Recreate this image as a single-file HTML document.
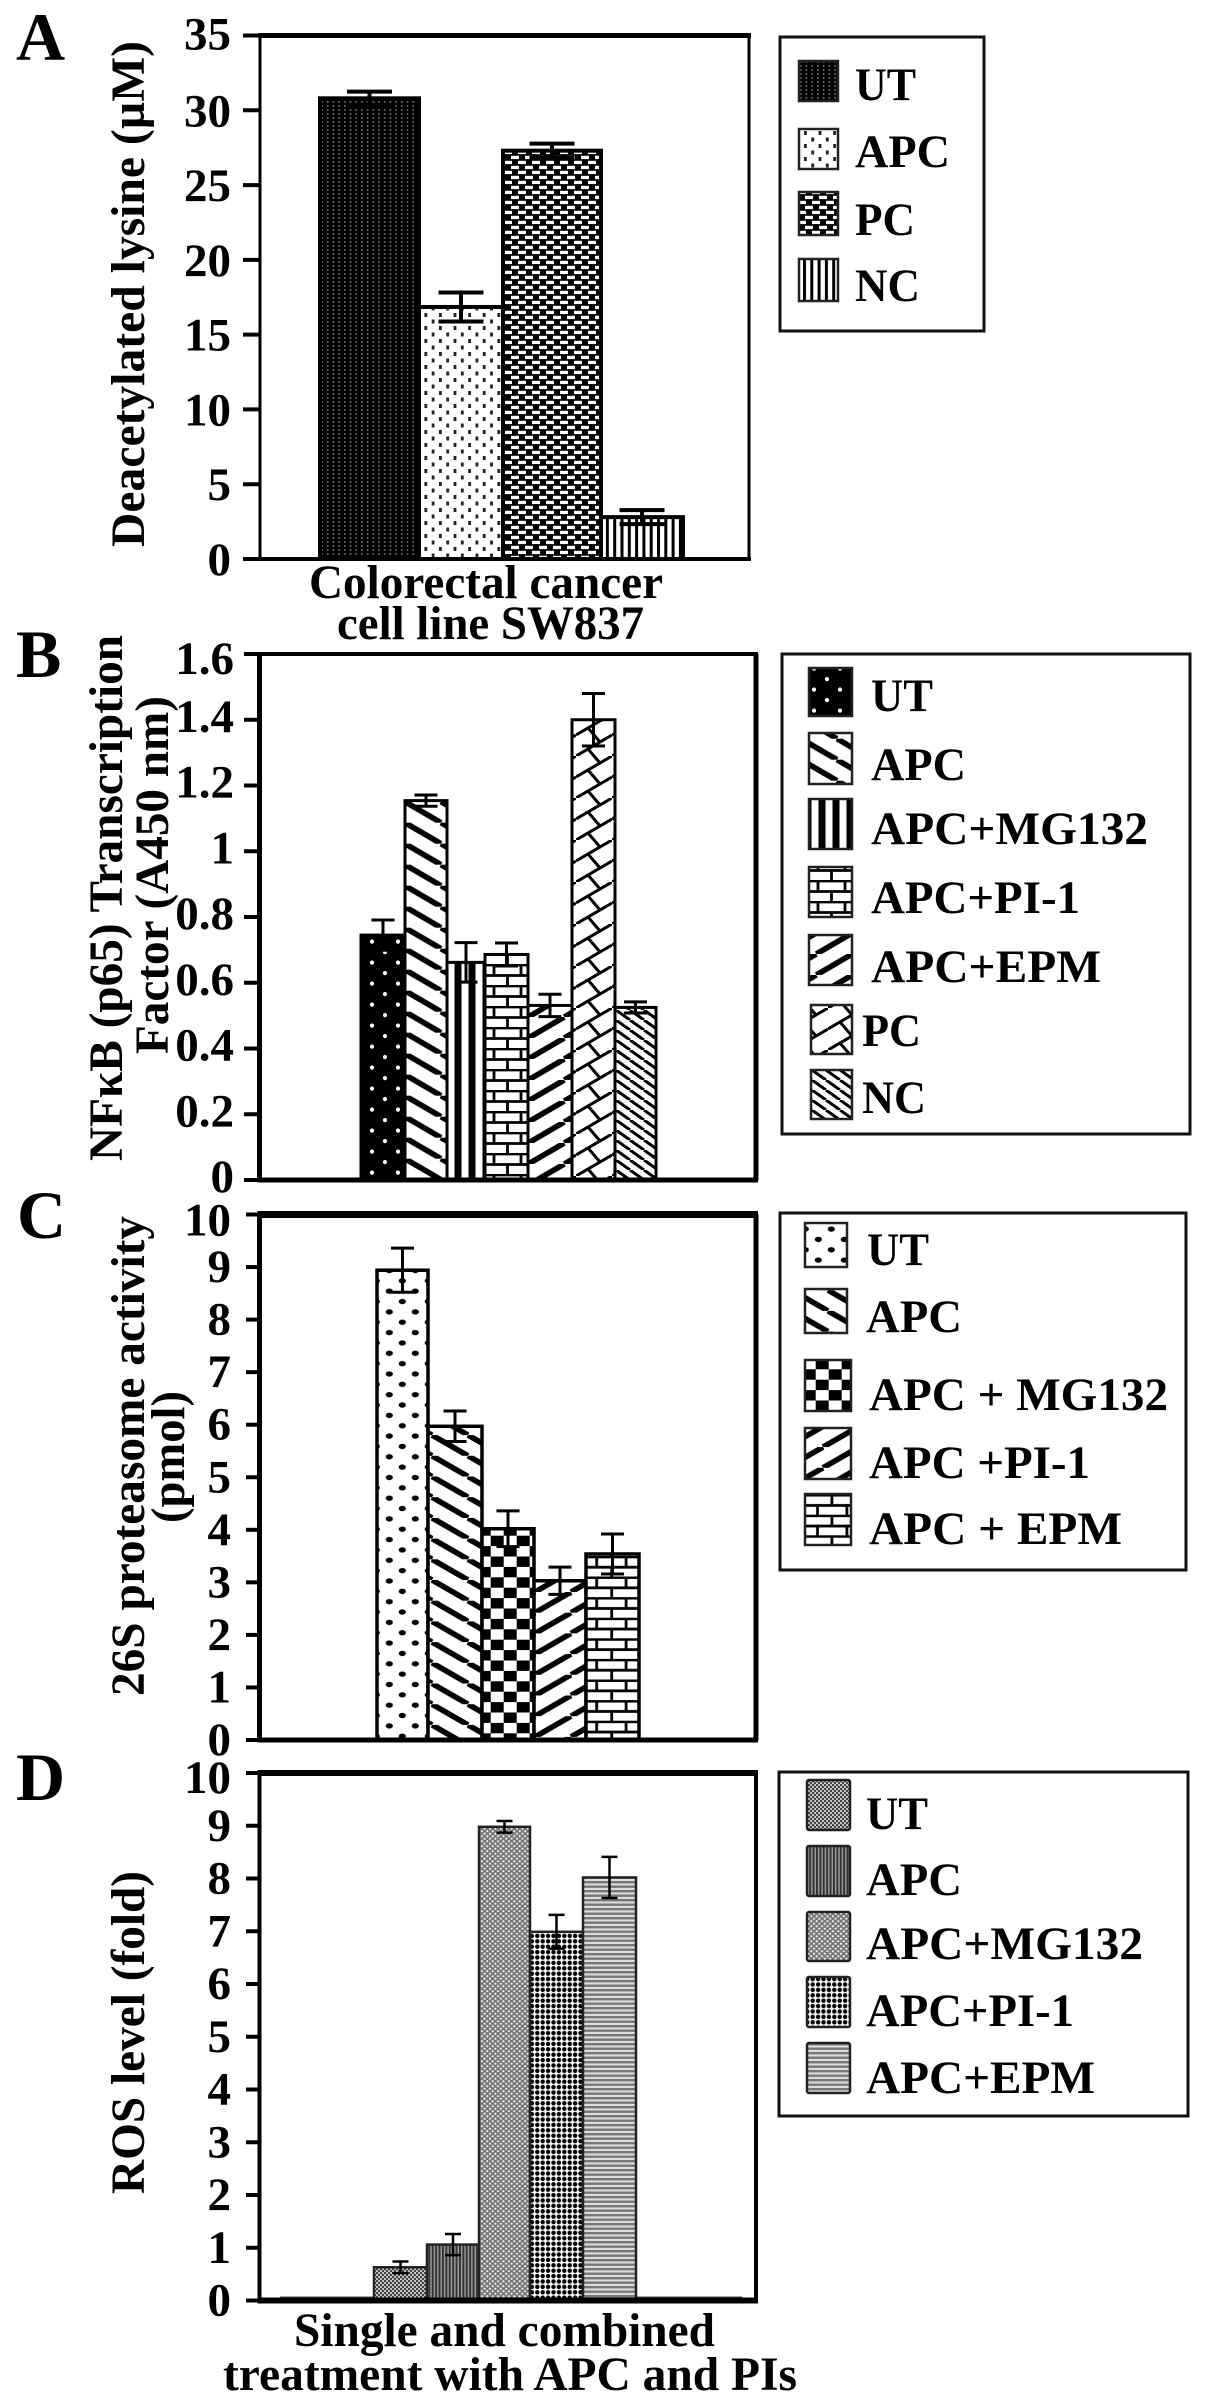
<!DOCTYPE html>
<html lang="en">
<head>
<meta charset="utf-8">
<title>Deacetylated lysine, NFκB, proteasome and ROS bar charts</title>
<style>
html,body{margin:0;padding:0;background:#fff;}
svg{display:block;}
text{font-family:"Liberation Serif","DejaVu Serif",serif;font-weight:bold;fill:#000;}
.lg{font-size:47px;}
.ax{font-size:48px;}
.pl{font-size:68px;}
.tk{font-size:47px;}
.fr{fill:#fff;stroke:#111;stroke-width:3;}
.sw{stroke:#222;stroke-width:2.5;}
</style>
</head>
<body>
<svg id="figure" xmlns="http://www.w3.org/2000/svg" width="1205" height="2404" viewBox="0 0 1205 2404">
<defs>
<pattern id="a-ut" patternUnits="userSpaceOnUse" width="5.7" height="4"><rect width="5.7" height="4" fill="#000"/><rect x="2" y="1.3" width="1.6" height="1.3" fill="#999"/></pattern>
<pattern id="a-apc" patternUnits="userSpaceOnUse" width="14.6" height="13"><rect width="14.6" height="13" fill="#fff"/><rect x="1" y="1" width="2.8" height="4" fill="#222"/><rect x="8.3" y="7.5" width="2.8" height="4" fill="#222"/></pattern>
<pattern id="a-pc" patternUnits="userSpaceOnUse" width="14" height="10"><rect width="14" height="10" fill="#000"/><rect x="0" y="0.8" width="8" height="3.3" fill="#fff"/><rect x="7" y="5.8" width="8" height="3.3" fill="#fff"/><rect x="-7" y="5.8" width="8" height="3.3" fill="#fff"/></pattern>
<pattern id="a-nc" patternUnits="userSpaceOnUse" width="7.3" height="6"><rect width="7.3" height="6" fill="#fff"/><rect width="3" height="6" fill="#000"/></pattern>
<pattern id="b-ut" patternUnits="userSpaceOnUse" x="372" y="941.6" width="26" height="21"><rect width="26" height="21" fill="#000"/><circle cx="0" cy="0" r="2.1" fill="#fff"/><circle cx="26" cy="0" r="2.1" fill="#fff"/><circle cx="0" cy="21" r="2.1" fill="#fff"/><circle cx="26" cy="21" r="2.1" fill="#fff"/><circle cx="13" cy="10.5" r="2.1" fill="#fff"/></pattern>
<pattern id="dn" patternUnits="userSpaceOnUse" x="405" y="906.7" width="36" height="21"><rect width="36" height="21" fill="#fff"/><g stroke="#000" stroke-width="5.6"><line x1="0" y1="0" x2="36" y2="21"/><line x1="-36" y1="0" x2="0" y2="21"/><line x1="36" y1="0" x2="72" y2="21"/></g></pattern>
<pattern id="up" patternUnits="userSpaceOnUse" x="528.3" y="1017" width="36" height="21"><rect width="36" height="21" fill="#fff"/><g stroke="#000" stroke-width="5.6"><line x1="0" y1="21" x2="36" y2="0"/><line x1="-36" y1="21" x2="0" y2="0"/><line x1="36" y1="21" x2="72" y2="0"/></g></pattern>
<pattern id="dn-c" patternUnits="userSpaceOnUse" x="432" y="1580" width="36" height="20.7"><rect width="36" height="20.7" fill="#fff"/><g stroke="#000" stroke-width="5.6"><line x1="0" y1="0" x2="36" y2="20.7"/><line x1="-36" y1="0" x2="0" y2="20.7"/><line x1="36" y1="0" x2="72" y2="20.7"/></g></pattern>
<pattern id="up-c" patternUnits="userSpaceOnUse" x="535" y="1592" width="36" height="20.7"><rect width="36" height="20.7" fill="#fff"/><g stroke="#000" stroke-width="5.6"><line x1="0" y1="20.7" x2="36" y2="0"/><line x1="-36" y1="20.7" x2="0" y2="0"/><line x1="36" y1="20.7" x2="72" y2="0"/></g></pattern>
<pattern id="vs" patternUnits="userSpaceOnUse" x="451.5" width="14" height="14"><rect width="14" height="14" fill="#fff"/><rect x="3" width="7" height="14" fill="#000"/></pattern>
<pattern id="brick" patternUnits="userSpaceOnUse" x="488" y="964" width="27" height="21"><rect width="27" height="21" fill="#fff"/><g stroke="#000" stroke-width="2.8"><line x1="0" y1="1" x2="27" y2="1"/><line x1="0" y1="11.5" x2="27" y2="11.5"/><line x1="6" y1="1" x2="6" y2="11.5"/><line x1="19.5" y1="11.5" x2="19.5" y2="22"/></g></pattern>
<pattern id="brick-c" patternUnits="userSpaceOnUse" x="590.7" y="1576.5" width="29.4" height="20.6"><rect width="29.4" height="20.6" fill="#fff"/><g stroke="#000" stroke-width="2.8"><line x1="0" y1="1" x2="29.4" y2="1"/><line x1="0" y1="11.3" x2="29.4" y2="11.3"/><line x1="6" y1="1" x2="6" y2="11.3"/><line x1="21" y1="11.3" x2="21" y2="21.6"/></g></pattern>
<pattern id="lat" patternUnits="userSpaceOnUse" width="36" height="42"><rect width="36" height="42" fill="#fff"/><g stroke="#000" stroke-width="3"><line x1="0" y1="21" x2="36" y2="0"/><line x1="0" y1="42" x2="36" y2="21"/><line x1="12" y1="14" x2="24" y2="28"/><line x1="12" y1="35" x2="24" y2="49"/><line x1="12" y1="-7" x2="24" y2="7"/></g></pattern>
<pattern id="thin" patternUnits="userSpaceOnUse" width="14" height="10"><rect width="14" height="10" fill="#fff"/><g stroke="#000" stroke-width="3"><line x1="0" y1="0" x2="14" y2="10"/><line x1="-14" y1="0" x2="0" y2="10"/><line x1="14" y1="0" x2="28" y2="10"/></g></pattern>
<pattern id="c-ut" patternUnits="userSpaceOnUse" x="389.3" y="1581" width="26" height="20.7"><rect width="26" height="20.7" fill="#fff"/><g fill="#000"><ellipse cx="0" cy="0" rx="3.6" ry="2.7"/><ellipse cx="26" cy="0" rx="3.6" ry="2.7"/><ellipse cx="0" cy="20.7" rx="3.6" ry="2.7"/><ellipse cx="26" cy="20.7" rx="3.6" ry="2.7"/><ellipse cx="13" cy="10.35" rx="3.6" ry="2.7"/></g></pattern>
<pattern id="check" patternUnits="userSpaceOnUse" x="490.7" y="1577.3" width="26" height="20.8"><rect width="26" height="20.8" fill="#fff"/><rect width="13" height="10.4" fill="#000"/><rect x="13" y="10.4" width="13" height="10.4" fill="#000"/></pattern>
<pattern id="d-ut" patternUnits="userSpaceOnUse" width="4" height="4"><rect width="4" height="4" fill="#ccc"/><rect width="2.2" height="2.2" fill="#444"/><rect x="2" y="2" width="2.2" height="2.2" fill="#444"/></pattern>
<pattern id="d-apc" patternUnits="userSpaceOnUse" width="3.4" height="4"><rect width="3.4" height="4" fill="#999"/><rect width="1.9" height="4" fill="#333"/></pattern>
<pattern id="d-mg" patternUnits="userSpaceOnUse" width="5.4" height="5"><rect width="5.4" height="5" fill="#777"/><circle cx="1.3" cy="1.2" r="1.1" fill="#eee"/><circle cx="4" cy="3.7" r="1.1" fill="#eee"/></pattern>
<pattern id="d-pi" patternUnits="userSpaceOnUse" width="5.4" height="5.4"><rect width="5.4" height="5.4" fill="#fff"/><circle cx="2.7" cy="2.7" r="2.2" fill="#000"/></pattern>
<pattern id="d-epm" patternUnits="userSpaceOnUse" width="4" height="4.5"><rect width="4" height="4.5" fill="#ddd"/><rect width="4" height="2.4" fill="#777"/></pattern>
</defs>

<rect width="1205" height="2404" fill="#fff"/>

<g id="plots"></g>

<g>
<text class="pl" x="16" y="60">A</text>
<text class="pl" x="16" y="677">B</text>
<text class="pl" x="17" y="1238">C</text>
<text class="pl" x="16" y="1800">D</text>
</g>

<g>
<text class="ax" transform="translate(144,547) rotate(-90)" textLength="506" lengthAdjust="spacingAndGlyphs">Deacetylated lysine (µM)</text>
<text class="ax" x="309" y="598" textLength="354" lengthAdjust="spacingAndGlyphs">Colorectal cancer</text>
<text class="ax" x="337" y="639" textLength="307" lengthAdjust="spacingAndGlyphs">cell line SW837</text>
<text class="ax" transform="translate(122,1161) rotate(-90)" textLength="526" lengthAdjust="spacingAndGlyphs">NFκB (p65) Transcription</text>
<text class="ax" transform="translate(168,1054) rotate(-90)" textLength="358" lengthAdjust="spacingAndGlyphs">Factor (A450 nm)</text>
<text class="ax" transform="translate(144,1696) rotate(-90)" textLength="480" lengthAdjust="spacingAndGlyphs">26S proteasome activity</text>
<text class="ax" transform="translate(184,1523) rotate(-90)" textLength="132" lengthAdjust="spacingAndGlyphs">(pmol)</text>
<text class="ax" transform="translate(144,2194) rotate(-90)" textLength="323" lengthAdjust="spacingAndGlyphs">ROS level (fold)</text>
<text class="ax" x="294" y="2346" textLength="421" lengthAdjust="spacingAndGlyphs">Single and combined</text>
<text class="ax" x="223" y="2390" textLength="574" lengthAdjust="spacingAndGlyphs">treatment with APC and PIs</text>
</g>

<g>
<rect class="fr" x="780" y="37" width="204" height="294"/>
<rect class="sw" x="799" y="61" width="39" height="40" fill="url(#a-ut)"/>
<rect class="sw" x="799" y="129" width="39" height="40" fill="url(#a-apc)"/>
<rect class="sw" x="799" y="192" width="39" height="43" fill="url(#a-pc)"/>
<rect class="sw" x="799" y="259" width="39" height="42" fill="url(#a-nc)"/>
<text class="lg" x="855" y="100" textLength="61" lengthAdjust="spacingAndGlyphs">UT</text>
<text class="lg" x="855" y="167" textLength="95" lengthAdjust="spacingAndGlyphs">APC</text>
<text class="lg" x="855" y="235" textLength="60" lengthAdjust="spacingAndGlyphs">PC</text>
<text class="lg" x="855" y="301" textLength="65" lengthAdjust="spacingAndGlyphs">NC</text>
</g>

<g>
<rect class="fr" x="782" y="654" width="408" height="480"/>
<rect class="sw" x="809" y="668" width="43" height="48" fill="url(#b-ut)"/>
<rect class="sw" x="809" y="733" width="43" height="51" fill="url(#dn)"/>
<rect class="sw" x="809" y="799" width="43" height="50" fill="url(#vs)"/>
<rect class="sw" x="809" y="867" width="43" height="50" fill="url(#brick)"/>
<rect class="sw" x="809" y="935" width="43" height="50" fill="url(#up)"/>
<rect class="sw" x="811" y="1005" width="41" height="49" fill="url(#lat)"/>
<rect class="sw" x="811" y="1070" width="41" height="49" fill="url(#thin)"/>
<text class="lg" x="871" y="711" textLength="62" lengthAdjust="spacingAndGlyphs">UT</text>
<text class="lg" x="871" y="780" textLength="95" lengthAdjust="spacingAndGlyphs">APC</text>
<text class="lg" x="871" y="844" textLength="277" lengthAdjust="spacingAndGlyphs">APC+MG132</text>
<text class="lg" x="871" y="913" textLength="209" lengthAdjust="spacingAndGlyphs">APC+PI-1</text>
<text class="lg" x="871" y="982" textLength="230" lengthAdjust="spacingAndGlyphs">APC+EPM</text>
<text class="lg" x="862" y="1046" textLength="59" lengthAdjust="spacingAndGlyphs">PC</text>
<text class="lg" x="862" y="1113" textLength="64" lengthAdjust="spacingAndGlyphs">NC</text>
</g>

<g>
<rect class="fr" x="780" y="1213" width="406" height="357"/>
<rect class="sw" x="805" y="1223" width="42" height="44" fill="url(#c-ut)"/>
<rect class="sw" x="805" y="1289" width="42" height="44" fill="url(#dn-c)"/>
<rect class="sw" x="805" y="1360" width="46" height="51" fill="url(#check)"/>
<rect class="sw" x="805" y="1428" width="46" height="51" fill="url(#up-c)"/>
<rect class="sw" x="805" y="1494" width="46" height="51" fill="url(#brick-c)"/>
<text class="lg" x="867" y="1265" textLength="62" lengthAdjust="spacingAndGlyphs">UT</text>
<text class="lg" x="866" y="1332" textLength="96" lengthAdjust="spacingAndGlyphs">APC</text>
<text class="lg" x="869" y="1410" textLength="299" lengthAdjust="spacingAndGlyphs">APC + MG132</text>
<text class="lg" x="869" y="1478" textLength="221" lengthAdjust="spacingAndGlyphs">APC +PI-1</text>
<text class="lg" x="869" y="1544" textLength="253" lengthAdjust="spacingAndGlyphs">APC + EPM</text>
</g>

<g>
<rect class="fr" x="779" y="1772" width="409" height="344"/>
<rect class="sw" x="807" y="1780" width="43" height="50" rx="2" fill="url(#d-ut)"/>
<rect class="sw" x="807" y="1846" width="43" height="50" rx="2" fill="url(#d-apc)"/>
<rect class="sw" x="807" y="1912" width="43" height="49" rx="2" fill="url(#d-mg)"/>
<rect class="sw" x="807" y="1977" width="43" height="50" rx="2" fill="url(#d-pi)"/>
<rect class="sw" x="807" y="2043" width="43" height="50" rx="2" fill="url(#d-epm)"/>
<text class="lg" x="866" y="1829" textLength="62" lengthAdjust="spacingAndGlyphs">UT</text>
<text class="lg" x="866" y="1895" textLength="96" lengthAdjust="spacingAndGlyphs">APC</text>
<text class="lg" x="866" y="1959" textLength="277" lengthAdjust="spacingAndGlyphs">APC+MG132</text>
<text class="lg" x="866" y="2026" textLength="208" lengthAdjust="spacingAndGlyphs">APC+PI-1</text>
<text class="lg" x="866" y="2093" textLength="229" lengthAdjust="spacingAndGlyphs">APC+EPM</text>
</g>
</svg>

<script>
// Panel A data
const categoriesA = ["UT", "APC", "PC", "NC"];
const valuesA = [30.8, 16.85, 27.3, 2.8];
const errorsA = [0.45, 0.97, 0.47, 0.47];
const tickLabelsA = ["0", "5", "10", "15", "20", "25", "30", "35"];

// Panel B data
const categoriesB = ["UT", "APC", "APC+MG132", "APC+PI-1", "APC+EPM", "PC", "NC"];
const valuesB = [0.745, 1.154, 0.662, 0.686, 0.531, 1.40, 0.525];
const errorsB = [0.046, 0.017, 0.06, 0.035, 0.034, 0.08, 0.017];
const tickLabelsB = ["0", "0.2", "0.4", "0.6", "0.8", "1", "1.2", "1.4", "1.6"];

// Panel C data
const categoriesC = ["UT", "APC", "APC+MG132", "APC+PI-1", "APC+EPM"];
const valuesC = [8.94, 5.97, 4.02, 3.03, 3.54];
const errorsC = [0.42, 0.29, 0.34, 0.26, 0.38];
const tickLabelsC = ["0", "1", "2", "3", "4", "5", "6", "7", "8", "9", "10"];

// Panel D data
const categoriesD = ["UT", "APC", "APC+MG132", "APC+PI-1", "APC+EPM"];
const valuesD = [0.63, 1.06, 8.98, 6.99, 8.02];
const errorsD = [0.11, 0.2, 0.11, 0.32, 0.39];
const tickLabelsD = ["0", "1", "2", "3", "4", "5", "6", "7", "8", "9", "10"];

// Layout and style, kept apart from the data above
const panelLayouts = [
  { key: "a", cats: categoriesA, vals: valuesA, errs: errorsA, ticks: tickLabelsA, max: 35,
    left: 260, right: 749, top: 35.5, bottom: 559, tickLeft: 243, labelRight: 231, labelDrop: 16, topLabelShift: -2,
    barStart: 320, barWidths: [99, 84, 98, 82], fills: ["a-ut", "a-apc", "a-pc", "a-nc"],
    barStroke: 4, strokeColor: "#000", capWidth: 45, stem: 4, frameTop: 5, frameSide: 3, frameBottom: 4 },
  { key: "b", cats: categoriesB, vals: valuesB, errs: errorsB, ticks: tickLabelsB, max: 1.6,
    left: 259.5, right: 756, top: 654, bottom: 1180, tickLeft: 244, labelRight: 234, labelDrop: 12, topLabelShift: 8,
    barStart: 361, barWidths: [44, 42, 38, 43, 44, 43, 41], fills: ["b-ut", "dn", "vs", "brick", "up", "lat", "thin"],
    barStroke: 3, strokeColor: "#000", capWidth: 23, stem: 3, frameTop: 4, frameSide: 5, frameBottom: 5 },
  { key: "c", cats: categoriesC, vals: valuesC, errs: errorsC, ticks: tickLabelsC, max: 10,
    left: 259.5, right: 756, top: 1214.5, bottom: 1740, tickLeft: 246, labelRight: 231, labelDrop: 15, topLabelShift: 6,
    barStart: 377, barWidths: [51, 54, 52, 52, 53], fills: ["c-ut", "dn-c", "check", "up-c", "brick-c"],
    barStroke: 3.5, strokeColor: "#000", capWidth: 23, stem: 3, frameTop: 7, frameSide: 5, frameBottom: 5 },
  { key: "d", cats: categoriesD, vals: valuesD, errs: errorsD, ticks: tickLabelsD, max: 10,
    left: 259.5, right: 756, top: 1773, bottom: 2300.5, tickLeft: 246, labelRight: 231, labelDrop: 15, topLabelShift: 5,
    barStart: 374, barWidths: [53, 52, 51, 53, 53], fills: ["d-ut", "d-apc", "d-mg", "d-pi", "d-epm"],
    barStroke: 2.5, strokeColor: "#222", capWidth: 16, stem: 2.5, frameTop: 6, frameSide: 4, frameBottom: 6 }
];

const SVG_NS = "http://www.w3.org/2000/svg";
const plotsRoot = document.getElementById("plots");

function mk(tag, attrs, parent) {
  const node = document.createElementNS(SVG_NS, tag);
  for (const k in attrs) node.setAttribute(k, attrs[k]);
  parent.appendChild(node);
  return node;
}
function slug(s) {
  return s.toLowerCase().replace(/[^a-z0-9]+/g, "-");
}

panelLayouts.forEach(function (p) {
  const yScale = function (v) { return p.bottom - (v / p.max) * (p.bottom - p.top); };

  const group = mk("g", {}, plotsRoot);
  
  

  if (p.key === "d") {
    const zeroLine = mk("line", {
      x1: 280, x2: 742, y1: p.bottom - 3, y2: p.bottom - 3, stroke: "#444", "stroke-width": 2
    }, group);
    
    
  }

  let x = p.barStart;
  p.cats.forEach(function (cat, i) {
    const w = p.barWidths[i];
    const top = yScale(p.vals[i]);
    const bar = mk("rect", {
      x: x, y: top, width: w, height: p.bottom - top,
      fill: "url(#" + p.fills[i] + ")", stroke: p.strokeColor, "stroke-width": p.barStroke
    }, group);
    
    
    x += w;
  });

  x = p.barStart;
  p.cats.forEach(function (cat, i) {
    const w = p.barWidths[i];
    const cx = x + w / 2;
    const hi = yScale(p.vals[i] + p.errs[i]);
    const lo = yScale(p.vals[i] - p.errs[i]);
    const err = mk("path", {
      d: "M" + (cx - p.capWidth / 2) + " " + hi + "H" + (cx + p.capWidth / 2) +
         "M" + cx + " " + hi + "V" + lo +
         "M" + (cx - p.capWidth / 2) + " " + lo + "H" + (cx + p.capWidth / 2),
      fill: "none", stroke: "#000", "stroke-width": p.stem
    }, group);
    
    
    x += w;
  });

  const frame = mk("path", {
    d: "M" + p.left + " " + p.top + "V" + p.bottom + "M" + p.right + " " + p.top + "V" + p.bottom,
    fill: "none", stroke: "#000", "stroke-width": p.frameSide
  }, group);
  
  

  const topLine = mk("line", {
    x1: p.left - 2, x2: p.right + 2, y1: p.top, y2: p.top, stroke: "#000", "stroke-width": p.frameTop
  }, group);
  
  

  const axisLine = mk("line", {
    x1: p.left - 2, x2: p.right + 2, y1: p.bottom, y2: p.bottom, stroke: "#000", "stroke-width": p.frameBottom
  }, group);
  
  

  const maxLabel = p.ticks[p.ticks.length - 1];
  p.ticks.forEach(function (label) {
    const y = yScale(Number(label));
    const tick = mk("line", {
      x1: p.tickLeft, x2: p.left, y1: y, y2: y, stroke: "#000", "stroke-width": 4
    }, group);
    
    

    const shift = label === maxLabel ? p.topLabelShift : 0;
    const text = mk("text", {
      "class": "tk", x: p.labelRight, y: y + p.labelDrop + shift, "text-anchor": "end"
    }, group);
    text.textContent = label;
    
    
  });
});
</script>
</body>
</html>
